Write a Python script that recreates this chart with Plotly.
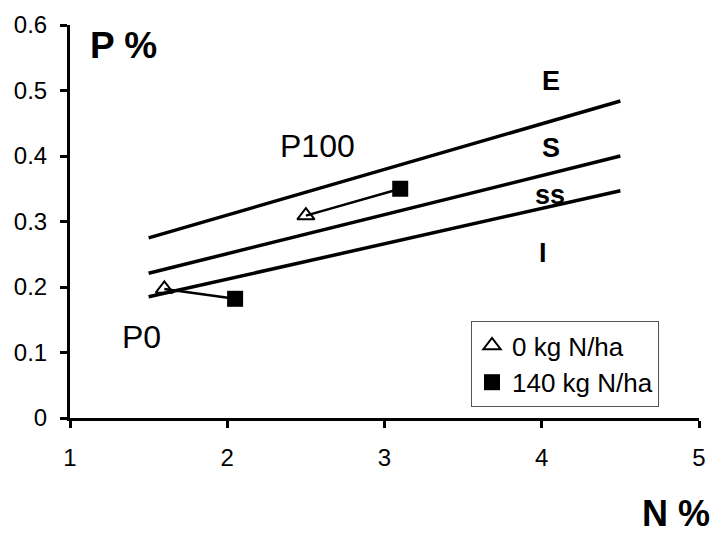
import plotly.graph_objects as go

# Boundary lines (N %, P %)
line_x = [1.5, 4.5]
line_E = [0.275, 0.484]
line_S = [0.221, 0.400]
line_ss = [0.185, 0.347]

# Observations: P0 and P100 pairs
p0_n = [1.6, 2.05]
p0_p = [0.197, 0.182]
p100_n = [2.5, 3.1]
p100_p = [0.309, 0.350]

# 0 kg N/ha (triangles), 140 kg N/ha (squares)
n0_x = [1.6, 2.5]
n0_y = [0.197, 0.309]
n140_x = [2.05, 3.1]
n140_y = [0.182, 0.350]

zone_labels = ["E", "S", "ss", "I"]
zone_x = [4.06, 4.06, 4.05, 4.01]
zone_y = [0.515, 0.412, 0.34, 0.252]

group_labels = ["P100", "P0"]
group_x = [2.577, 1.456]
group_y = [0.416, 0.124]

FONT = "Liberation Sans, Arial, sans-serif"

# page body has an 8px margin; figure placed at (8, 8)
OFF = 8
W, H = 718 - OFF, 533 - OFF
L, T, R, B = 70 - OFF, 25 - OFF, 19, 115
PW = W - L - R
PH = H - T - B


def px(x):
    return (x - 70) / PW


def py(y):
    return (418 - y) / PH


fig = go.Figure()
for ys in (line_E, line_S, line_ss):
    fig.add_trace(go.Scatter(x=line_x, y=ys, mode="lines",
                             line=dict(color="black", width=3.5),
                             showlegend=False, hoverinfo="skip"))
for xs, ys in ((p0_n, p0_p), (p100_n, p100_p)):
    fig.add_trace(go.Scatter(x=xs, y=ys, mode="lines",
                             line=dict(color="black", width=2.5),
                             showlegend=False, hoverinfo="skip"))
fig.add_trace(go.Scatter(x=n0_x, y=n0_y, mode="markers", name="0 kg N/ha",
                         marker=dict(symbol="triangle-up-open", size=15,
                                     color="black", line=dict(width=2))))
fig.add_trace(go.Scatter(x=n140_x, y=n140_y, mode="markers", name="140 kg N/ha",
                         marker=dict(symbol="square", size=16, color="black")))

for t, x, y in zip(zone_labels, zone_x, zone_y):
    fig.add_annotation(x=x, y=y, text="<b>" + t + "</b>", showarrow=False,
                       font=dict(family=FONT, size=27, color="black"),
                       xanchor="center", yanchor="middle")
for t, x, y in zip(group_labels, group_x, group_y):
    fig.add_annotation(x=x, y=y, text=t, showarrow=False,
                       font=dict(family=FONT, size=32, color="black"),
                       xanchor="center", yanchor="middle")

fig.add_annotation(xref="paper", yref="paper", x=px(123), y=py(45),
                   text="<b>P %</b>", showarrow=False,
                   font=dict(family=FONT, size=37, color="black"),
                   xanchor="center", yanchor="middle")
fig.add_annotation(xref="paper", yref="paper", x=px(676), y=py(513),
                   text="<b>N %</b>", showarrow=False,
                   font=dict(family=FONT, size=36, color="black"),
                   xanchor="center", yanchor="middle")

axis_common = dict(showline=True, linecolor="black", linewidth=3,
                   ticks="outside", ticklen=7, tickwidth=3, tickcolor="black",
                   showgrid=False, zeroline=False, automargin=False,
                   tickfont=dict(family=FONT, size=24, color="black"))

fig.update_layout(
    width=W, height=H,
    margin=dict(l=L, r=R, t=T, b=B),
    paper_bgcolor="white", plot_bgcolor="white",
    xaxis=dict(range=[1, 5], tickvals=[1, 2, 3, 4, 5], ticklabelstandoff=9,
               **axis_common),
    yaxis=dict(range=[0, 0.6], tickvals=[0, 0.1, 0.2, 0.3, 0.4, 0.5, 0.6],
               ticktext=["0", "0.1", "0.2", "0.3", "0.4", "0.5", "0.6"],
               ticklabelstandoff=8, **axis_common),
    legend=dict(x=px(471), y=py(321), xanchor="left", yanchor="top",
                bordercolor="#555555", borderwidth=1, bgcolor="white",
                font=dict(family=FONT, size=26, color="black"),
                itemwidth=30, tracegroupgap=0),
    showlegend=True,
)

fig.write_html("out.html")
